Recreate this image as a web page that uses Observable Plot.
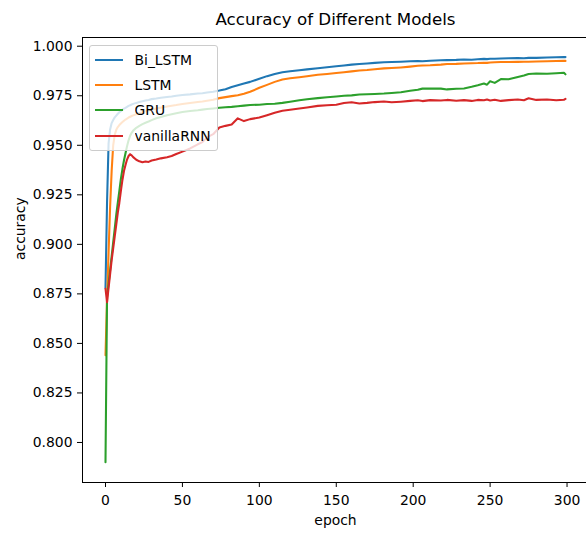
<!DOCTYPE html>
<html>
<head>
<meta charset="utf-8">
<script src="https://cdn.jsdelivr.net/npm/d3@7"></script>
<script src="https://cdn.jsdelivr.net/npm/@observablehq/plot@0.6"></script>
<style>
html, body { margin: 0; padding: 0; background: #fff; overflow: hidden; }
#wrap { position: relative; width: 586px; height: 534px; overflow: hidden; }
#wrap > svg { display: block; }
#legend { position: absolute; left: 89px; top: 45px; width: 129px; height: 106px; box-sizing: border-box;
  border: 1px solid #cccccc; border-radius: 3px; background: rgba(255,255,255,0.8); padding: 1px 0 0 5px; }
#legend .lg-swatches { display: block !important; columns: auto !important; margin: 0 !important; min-height: 0 !important; }
#legend .lg-swatch { display: flex !important; align-items: center !important; height: 25.3px !important; margin: 0 !important; padding: 0 !important; }
#legend .lg-swatch > svg { margin-right: 11.5px !important; flex-shrink: 0; }
#legend, #legend * { font-family: "DejaVu Sans", sans-serif !important; font-size: 13.9px !important; color: #000; }
</style>
</head>
<body>
<div id="wrap"></div>
<script>
// ---- data ----
const epochs = [
  0, 1, 2, 3, 4, 5, 6, 7, 8, 9,
  10, 11, 12, 13, 14, 15, 16, 17, 18, 20,
  22, 24, 26, 28, 30, 33, 36, 40, 43, 46,
  50, 55, 60, 63, 66, 70, 74, 78, 82, 86,
  90, 94, 100, 105, 110, 115, 120, 126, 131, 138,
  144, 150, 155, 160, 165, 170, 175, 181, 186, 192,
  198, 203, 206, 211, 218, 222, 228, 233, 238, 242,
  246, 248, 250, 253, 257, 262, 268, 272, 275, 280,
  287, 293, 298, 299
];
const biLstmAcc = [
  0.878, 0.921, 0.951, 0.958, 0.9612, 0.9628, 0.9641, 0.9650, 0.9659, 0.9667,
  0.9672, 0.9679, 0.9685, 0.9689, 0.9694, 0.9699, 0.9702, 0.9706, 0.9709, 0.9714,
  0.9718, 0.9722, 0.9726, 0.9729, 0.9733, 0.9736, 0.9740, 0.9744, 0.9746, 0.9750,
  0.9754, 0.9757, 0.9761, 0.9763, 0.9766, 0.9770, 0.9776, 0.9783, 0.9794, 0.9803,
  0.9812, 0.9820, 0.9836, 0.9849, 0.9860, 0.9869, 0.9874, 0.9879, 0.9883, 0.9889,
  0.9894, 0.9899, 0.9903, 0.9907, 0.9910, 0.9913, 0.9916, 0.9919, 0.9920, 0.9922,
  0.9924, 0.9925, 0.9924, 0.9927, 0.9929, 0.9930, 0.9931, 0.9933, 0.9932, 0.9934,
  0.9936, 0.9935, 0.9937, 0.9937, 0.9938, 0.9939, 0.9940, 0.9939, 0.9941, 0.9941,
  0.9943, 0.9944, 0.9945, 0.9945
];
const lstmAcc = [
  0.844, 0.872, 0.896, 0.919, 0.937, 0.950, 0.9553, 0.9578, 0.9592, 0.9602,
  0.9610, 0.9617, 0.9624, 0.9630, 0.9635, 0.9640, 0.9644, 0.9648, 0.9651, 0.9657,
  0.9663, 0.9667, 0.9672, 0.9676, 0.9680, 0.9686, 0.9690, 0.9696, 0.9700, 0.9703,
  0.9708, 0.9713, 0.9718, 0.9721, 0.9725, 0.9730, 0.9738, 0.9743, 0.9748, 0.9753,
  0.9760, 0.9770, 0.9790, 0.9805, 0.9820, 0.9832, 0.9838, 0.9843, 0.9848, 0.9856,
  0.9860, 0.9865, 0.9869, 0.9873, 0.9877, 0.9880, 0.9884, 0.9888, 0.9890, 0.9893,
  0.9897, 0.9901, 0.9903, 0.9904, 0.9907, 0.9910, 0.9911, 0.9913, 0.9914, 0.9915,
  0.9917, 0.9916, 0.9918, 0.9919, 0.9920, 0.9920, 0.9921, 0.9922, 0.9922, 0.9923,
  0.9924, 0.9925, 0.9926, 0.9926
];
const gruAcc = [
  0.790, 0.8734, 0.880, 0.887, 0.894, 0.901, 0.908, 0.915, 0.921, 0.927,
  0.933, 0.938, 0.9423, 0.946, 0.9495, 0.9525, 0.9548, 0.9563, 0.9574, 0.9588,
  0.9598, 0.9607, 0.9614, 0.9620, 0.9627, 0.9636, 0.9643, 0.9652, 0.9657, 0.9662,
  0.9668, 0.9673, 0.9677, 0.9680, 0.9683, 0.9686, 0.9689, 0.9692, 0.9694, 0.9697,
  0.9700, 0.9703, 0.9705, 0.9708, 0.9710, 0.9714, 0.9720, 0.9727, 0.9732, 0.9738,
  0.9742, 0.9746, 0.9750, 0.9752, 0.9756, 0.9758, 0.9759, 0.9761, 0.9764, 0.9768,
  0.9775, 0.9780, 0.9786, 0.9787, 0.9786, 0.9782, 0.9785, 0.9787, 0.9795, 0.9803,
  0.9812, 0.9806, 0.9823, 0.9815, 0.9834, 0.9833, 0.9845, 0.9852, 0.9860, 0.9862,
  0.9861, 0.9864, 0.9866, 0.9858
];
const rnnAcc = [
  0.8776, 0.8708, 0.878, 0.885, 0.892, 0.898, 0.904, 0.910, 0.916, 0.921,
  0.927, 0.9325, 0.937, 0.940, 0.9428, 0.9446, 0.9455, 0.9449, 0.9440, 0.9427,
  0.9419, 0.9414, 0.9418, 0.9416, 0.9423, 0.9428, 0.9434, 0.9440, 0.9446, 0.9456,
  0.9468, 0.9484, 0.9505, 0.9516, 0.9540, 0.9556, 0.9590, 0.9598, 0.9605, 0.9636,
  0.9622, 0.9632, 0.9640, 0.9652, 0.9664, 0.9674, 0.9679, 0.9686, 0.9691, 0.9699,
  0.9702, 0.9705, 0.9713, 0.9717, 0.9711, 0.9714, 0.9718, 0.9721, 0.9717, 0.9720,
  0.9724, 0.9727, 0.9723, 0.9728, 0.9726, 0.9729, 0.9725, 0.9728, 0.9724, 0.9729,
  0.9727, 0.9731, 0.9726, 0.9730, 0.9724, 0.9728, 0.9731, 0.9727, 0.9737, 0.9729,
  0.9731, 0.9727, 0.9730, 0.9734
];
const seriesNames = ["Bi_LSTM", "LSTM", "GRU", "vanillaRNN"];
const seriesColors = ["#1f77b4", "#ff7f0e", "#2ca02c", "#d62728"];
const xTicks = [0, 50, 100, 150, 200, 250, 300];
const yTicks = [0.800, 0.825, 0.850, 0.875, 0.900, 0.925, 0.950, 0.975, 1.000];
const titleText = "Accuracy of Different Models";
const xLabelText = "epoch";
const yLabelText = "accuracy";

// ---- build table ----
const seriesValues = [biLstmAcc, lstmAcc, gruAcc, rnnAcc];
const rows = seriesNames.flatMap((name, i) => {
  const vals = seriesValues[i];
  const n = Math.min(vals.length, epochs.length);
  return d3.range(n).map(j => ({series: name, epoch: epochs[j], acc: vals[j]}));
});

const font = "'DejaVu Sans', sans-serif";
const chart = Plot.plot({
  width: 586,
  height: 534,
  marginLeft: 82,
  marginRight: -2,
  marginTop: 37,
  marginBottom: 52,
  style: {fontFamily: font, fontSize: "13.9px", color: "#000", background: "#fff"},
  x: {domain: [-14.95, 313.95], range: [82, 588], ticks: xTicks, tickSize: 5, tickPadding: 8,
      tickFormat: d3.format("d"), label: null},
  y: {domain: [0.7798, 1.0044], range: [482, 37], ticks: yTicks, tickSize: 5, tickPadding: 5,
      tickFormat: d3.format(".3f"), label: null},
  color: {domain: seriesNames, range: seriesColors},
  marks: [
    Plot.line(rows, {x: "epoch", y: "acc", z: "series", stroke: "series", strokeWidth: 2.08}),
    Plot.frame({stroke: "#000", strokeWidth: 1}),
    Plot.text([titleText], {text: d => d, frameAnchor: "top", lineAnchor: "middle", dy: -17.5, fontSize: 16.7, fill: "#000"}),
    Plot.text([xLabelText], {text: d => d, frameAnchor: "bottom", lineAnchor: "middle", dy: 38.5, fontSize: 13.9, fill: "#000"}),
    Plot.text([yLabelText], {text: d => d, frameAnchor: "left", lineAnchor: "middle", dx: -62, rotate: -90, fontSize: 13.9, fill: "#000"})
  ]
});

const wrap = document.getElementById("wrap");
wrap.appendChild(chart);

const legend = Plot.legend({
  color: {domain: seriesNames, range: seriesColors},
  legend: "swatches",
  columns: 1,
  swatchWidth: 28,
  swatchHeight: 2,
  className: "lg"
});
const lg = document.createElement("div");
lg.id = "legend";
lg.appendChild(legend);
wrap.appendChild(lg);
</script>
</body>
</html>
